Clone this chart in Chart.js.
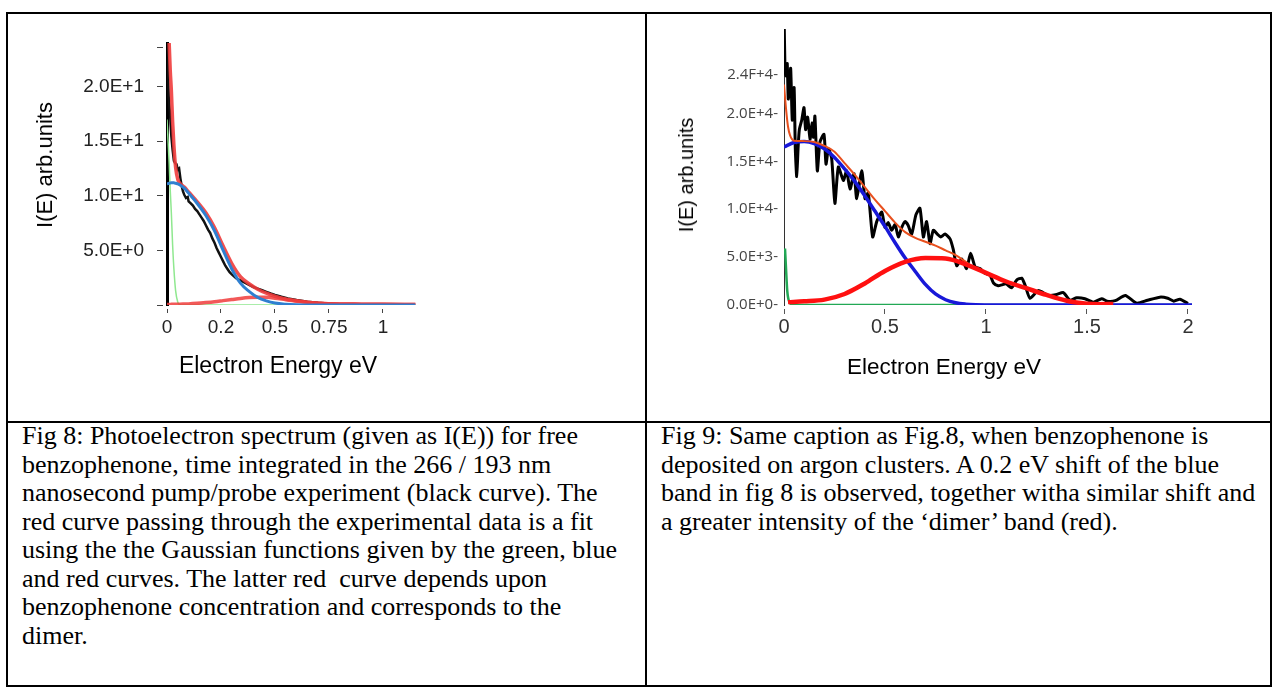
<!DOCTYPE html>
<html>
<head>
<meta charset="utf-8">
<title>Fig 8 / Fig 9 photoelectron spectra</title>
<script src="https://cdn.jsdelivr.net/npm/chart.js@4.4.0/dist/chart.umd.min.js"></script>
<style>
  body { margin: 0; background: #fff; width: 1278px; height: 689px; position: relative; overflow: hidden;
         font-family: 'Liberation Sans', Arial, sans-serif; }
  .rule { position: absolute; background: #000; }
  canvas { position: absolute; }
  .axis-title { position: absolute; white-space: nowrap; color: #000; line-height: 1; transform: translate(-50%, -50%); }
  .axis-title.vert { transform: translate(-50%, -50%) rotate(-90deg); }
  .caption { position: absolute; top: 422px; font-family: 'Liberation Serif', 'Times New Roman', serif;
             font-size: 26px; line-height: 28.5px; white-space: pre; color: #000; }
</style>
</head>
<body>

<!-- table rules -->
<div class="rule" style="left:6px; top:12px; width:1266px; height:2px;"></div>
<div class="rule" style="left:6px; top:685px; width:1266px; height:2px;"></div>
<div class="rule" style="left:6px; top:421px; width:1266px; height:2px;"></div>
<div class="rule" style="left:6px; top:12px; width:2px; height:675px;"></div>
<div class="rule" style="left:645px; top:12px; width:2px; height:675px;"></div>
<div class="rule" style="left:1270px; top:12px; width:2px; height:675px;"></div>

<canvas id="fig8" width="637" height="407" style="left:8px; top:14px;"></canvas>
<canvas id="fig9" width="623" height="407" style="left:647px; top:14px;"></canvas>

<div class="axis-title vert" style="left:45px; top:165px; font-size:22px;">I(E) arb.units</div>
<div class="axis-title" style="left:278px; top:365px; font-size:23px;">Electron Energy eV</div>
<div class="axis-title vert" style="left:686px; top:175px; font-size:20px;">I(E) arb.units</div>
<div class="axis-title" style="left:944px; top:367px; font-size:22.5px;">Electron Energy eV</div>

<div class="caption" style="left:22px;">Fig 8: Photoelectron spectrum (given as I(E)) for free
benzophenone, time integrated in the 266 / 193 nm
nanosecond pump/probe experiment (black curve). The
red curve passing through the experimental data is a fit
using the the Gaussian functions given by the green, blue
and red curves. The latter red  curve depends upon
benzophenone concentration and corresponds to the
dimer.</div>
<div class="caption" style="left:661px;">Fig 9: Same caption as Fig.8, when benzophenone is
deposited on argon clusters. A 0.2 eV shift of the blue
band in fig 8 is observed, together witha similar shift and
a greater intensity of the ‘dimer’ band (red).</div>

<script>
// ---- Fig 8 (free benzophenone) ----
const fig8SignalX = [0, 0.004, 0.008, 0.014, 0.020, 0.026, 0.032, 0.038, 0.044, 0.050, 0.056, 0.062, 0.068, 0.074,
  0.080, 0.088, 0.096, 0.100, 0.110, 0.120, 0.130, 0.140, 0.150, 0.160, 0.170, 0.180, 0.190, 0.200, 0.210, 0.220,
  0.230, 0.240, 0.250, 0.260, 0.270, 0.280, 0.290, 0.300, 0.320, 0.340, 0.360, 0.380, 0.400, 0.420, 0.440, 0.460,
  0.480, 0.500, 0.530, 0.560, 0.600, 0.650, 0.700, 0.760, 0.820, 0.900];
const fig8SignalY = [30, 22, 19, 17.5, 15.5, 14.2, 13.2, 13.0, 12.9, 12.4, 12.5, 11.6, 10.9, 10.4,
  10.1, 9.8, 9.9, 9.5, 9.3, 9.1, 8.8, 8.6, 8.3, 8.0, 7.7, 7.3, 6.9, 6.6, 6.1, 5.7,
  5.2, 4.8, 4.4, 4.0, 3.6, 3.3, 3.0, 2.8, 2.45, 2.25, 2.05, 1.85, 1.65, 1.5, 1.35, 1.2,
  1.05, 0.92, 0.75, 0.6, 0.45, 0.3, 0.2, 0.12, 0.05, 0];

const fig8FitX = [0, 0.005, 0.01, 0.015, 0.02, 0.026, 0.032, 0.04, 0.05, 0.06, 0.08, 0.10, 0.14, 0.18, 0.22, 0.26,
  0.30, 0.34, 0.38, 0.42, 0.46, 0.50, 0.55, 0.60, 0.65, 0.70, 0.80, 0.90, 1.00, 1.15];
const fig8TotalFit = [35, 27, 24, 21.5, 19.7, 16.8, 14.6, 12.6, 11.5, 11.15, 10.8, 10.35, 9.45, 8.45, 7.1, 5.4,
  3.8, 2.6, 1.95, 1.45, 1.08, 0.8, 0.55, 0.38, 0.25, 0.17, 0.1, 0.08, 0.06, 0.05];
const fig8BlueBand = [11.1, 11.12, 11.15, 11.18, 11.2, 11.2, 11.2, 11.15, 11.1, 11.0, 10.7, 10.25, 9.3, 8.2, 6.8, 5.0,
  3.3, 2.0, 1.25, 0.7, 0.38, 0.18, 0.07, 0.02, 0, 0, 0, 0, 0, 0];
const fig8DimerBand = [0.05, 0.05, 0.05, 0.05, 0.06, 0.06, 0.06, 0.07, 0.07, 0.08, 0.09, 0.1, 0.15, 0.22, 0.3, 0.4,
  0.5, 0.6, 0.68, 0.72, 0.7, 0.62, 0.48, 0.35, 0.24, 0.16, 0.09, 0.08, 0.06, 0.05];
const fig8GreenBand = [17, 15, 13, 10.5, 8.5, 5.5, 3.3, 1.3, 0.25, 0.03, 0, 0, 0, 0, 0, 0,
  0, 0, 0, 0, 0, 0, 0, 0, 0, 0, 0, 0, 0, 0];

const fig8XTicks = [0, 0.25, 0.5, 0.75, 1];
const fig8XLabels = ['0', '0.2', '0.5', '0.75', '1'];
const fig8YTicks = [0, 5, 10, 15, 20, 23.6];
const fig8YLabels = ['', '5.0E+0', '1.0E+1', '1.5E+1', '2.0E+1', ''];

// ---- Fig 9 (benzophenone on argon clusters) ----
const fig9SignalX = [0, 0.005, 0.010, 0.016, 0.021, 0.026, 0.033, 0.041, 0.050, 0.056, 0.063, 0.070, 0.076, 0.088,
  0.099, 0.107, 0.117, 0.129, 0.139, 0.146, 0.153, 0.165, 0.178, 0.198, 0.208, 0.220, 0.236, 0.252, 0.269, 0.294,
  0.310, 0.327, 0.347, 0.360, 0.385, 0.401, 0.417, 0.439, 0.459, 0.484, 0.500, 0.516, 0.533, 0.550, 0.566, 0.583,
  0.599, 0.615, 0.632, 0.653, 0.673, 0.690, 0.706, 0.723, 0.739, 0.759, 0.776, 0.797, 0.822, 0.838, 0.855, 0.880,
  0.904, 0.924, 0.946, 0.970, 0.995, 1.020, 1.037, 1.061, 1.078, 1.100, 1.127, 1.152, 1.177, 1.193, 1.218, 1.259,
  1.310, 1.350, 1.383, 1.416, 1.449, 1.490, 1.531, 1.573, 1.600, 1.640, 1.690, 1.746, 1.800, 1.861, 1.900, 1.930,
  1.960, 2.000];
const fig9SignalY = [31000, 24500, 23900, 25200, 21500, 22300, 24700, 19300, 22700, 16300, 13400, 16500, 18300, 19300,
  20600, 18300, 19600, 17300, 19000, 17500, 19700, 14000, 17000, 17800, 14700, 16300, 15300, 10600, 14400, 13000,
  14000, 12100, 13700, 11100, 14000, 11100, 11700, 7100, 8700, 9700, 8100, 8600, 7800, 8400, 7100, 8100,
  8700, 8300, 7400, 9400, 10100, 7100, 8700, 6400, 7800, 7400, 7100, 7400, 6900, 5800, 4100, 4800,
  3800, 5400, 4000, 3800, 3300, 3100, 2300, 2000, 2100, 2200, 1800, 2600, 2800, 2100, 700, 1500,
  1000, 1100, 1300, 500, 750, 650, 300, 650, 400, 450, 1000, 200, 500, 820, 700, 400,
  600, 150];

const fig9TotalX = [0, 0.01, 0.02, 0.03, 0.05, 0.1, 0.15, 0.2, 0.25, 0.3, 0.35, 0.4, 0.45, 0.5, 0.55, 0.6, 0.65,
  0.7, 0.75, 0.8, 0.85, 0.9, 0.95, 1.0, 1.1, 1.2, 1.3, 1.4, 1.5, 1.6];
const fig9TotalY = [23000, 20500, 18600, 17700, 17150, 17100, 17000, 16600, 16000, 14800, 13600, 12300, 11000, 9800,
  8600, 7600, 7000, 6600, 6200, 5700, 5200, 4500, 3800, 3400, 2450, 1750, 1050, 450, 130, 100];

const fig9BlueX = [0, 0.05, 0.10, 0.15, 0.20, 0.25, 0.30, 0.35, 0.40, 0.45, 0.50, 0.55, 0.60, 0.65, 0.70, 0.75,
  0.80, 0.85, 0.90, 0.95, 1.00, 1.10, 1.30, 2.02];
const fig9BlueY = [16500, 16950, 17050, 16850, 16300, 15400, 14200, 12900, 11400, 9800, 8200, 6500, 4900, 3500, 2150,
  1150, 550, 230, 90, 30, 10, 0, 0, 0];

const fig9DimerX = [0.02, 0.1, 0.2, 0.3, 0.4, 0.5, 0.6, 0.7, 0.8, 0.9, 1.0, 1.1, 1.2, 1.3, 1.4, 1.5, 1.56, 1.63];
const fig9DimerY = [300, 380, 560, 1150, 2250, 3550, 4500, 4900, 4850, 4250, 3350, 2450, 1750, 1050, 450, 130, 80, 100];

const fig9GreenX = [0.005, 0.01, 0.016, 0.026, 0.046, 2.02];
const fig9GreenY = [5900, 3800, 1500, 330, 0, 0];

const fig9XTicks = [0, 0.5, 1, 1.5, 2];
const fig9XLabels = ['0', '0.5', '1', '1.5', '2'];
const fig9YTicks = [0, 5000, 10000, 15000, 20000, 24000];
const fig9YLabels = ['0.0E+0-', '5.0E+3-', '1.0E+4-', '1.5E+4-', '2.0E+4-', '2.4F+4-'];

Chart.defaults.font.family = "'Liberation Sans', Arial, sans-serif";

function pts(xs, ys) {
  return xs.map((x, i) => ({ x: x, y: ys[i] }));
}

function curve(xs, ys, color, width, mode) {
  const ds = { data: pts(xs, ys), borderColor: color, borderWidth: width, pointRadius: 0, fill: false };
  if (mode === 'fit') {
    ds.cubicInterpolationMode = 'monotone';
  } else {
    ds.tension = mode === 'wiggle' ? 0.2 : 0;
  }
  return ds;
}

function fixedTicks(values) {
  return function (axis) {
    axis.ticks = values.map(v => ({ value: v }));
  };
}

// Fig 8 chart (first dataset is drawn on top)
new Chart(document.getElementById('fig8'), {
  type: 'line',
  data: {
    datasets: [
      curve(fig8FitX, fig8BlueBand, '#2f7fd0', 3, 'fit'),
      curve(fig8FitX, fig8DimerBand, 'rgba(240,60,60,0.85)', 3.5, 'fit'),
      curve(fig8FitX, fig8TotalFit, 'rgba(240,60,60,0.9)', 3.5, 'fit'),
      curve(fig8SignalX, fig8SignalY, '#111', 2.5, 'raw'),
      curve(fig8FitX, fig8GreenBand, '#8fe88f', 1.5, 'fit')
    ]
  },
  options: {
    responsive: false,
    animation: false,
    devicePixelRatio: 1,
    layout: { padding: { top: 29, right: 229, left: 0, bottom: 0 } },
    plugins: { legend: { display: false }, tooltip: { enabled: false } },
    scales: {
      x: {
        type: 'linear', min: 0, max: 1.153,
        afterBuildTicks: fixedTicks(fig8XTicks),
        afterFit: s => { s.height = 116; },
        border: { display: false },
        grid: { drawOnChartArea: false, tickLength: 8, tickColor: '#444', tickBorderDash: [0, 4, 4, 100] },
        ticks: { autoSkip: false, maxRotation: 0, padding: 3.6, color: '#222', font: { size: 19 },
                 callback: (v, i) => fig8XLabels[i] }
      },
      y: {
        type: 'linear', min: 0, max: 24,
        afterBuildTicks: fixedTicks(fig8YTicks),
        afterFit: s => { s.width = 159; },
        border: { color: '#000', width: 3 },
        grid: { drawOnChartArea: false, tickLength: 10, tickColor: '#444', tickBorderDash: [6, 100] },
        ticks: { autoSkip: false, padding: 13, color: '#222', font: { size: 19 },
                 callback: (v, i) => fig8YLabels[i] }
      }
    }
  }
});

// Fig 9 chart
new Chart(document.getElementById('fig9'), {
  type: 'line',
  data: {
    datasets: [
      curve(fig9DimerX, fig9DimerY, '#ff1010', 4.5, 'fit'),
      curve(fig9TotalX, fig9TotalY, '#e8501e', 2, 'fit'),
      curve(fig9BlueX, fig9BlueY, '#1818d8', 3.5, 'fit'),
      curve(fig9SignalX, fig9SignalY, '#000', 3, 'wiggle'),
      curve(fig9GreenX, fig9GreenY, '#22a855', 2.5, 'fit')
    ]
  },
  options: {
    responsive: false,
    animation: false,
    devicePixelRatio: 1,
    layout: { padding: { top: 0, right: 78, left: 0, bottom: 0 } },
    plugins: { legend: { display: false }, tooltip: { enabled: false } },
    scales: {
      x: {
        type: 'linear', min: 0, max: 2.02,
        afterBuildTicks: fixedTicks(fig9XTicks),
        afterFit: s => { s.height = 116; },
        border: { display: false },
        grid: { drawOnChartArea: false, tickLength: 9, tickColor: '#555', tickBorderDash: [0, 4, 5, 100] },
        ticks: { autoSkip: false, maxRotation: 0, padding: 1, color: '#333', font: { size: 20 },
                 callback: (v, i) => fig9XLabels[i] }
      },
      y: {
        type: 'linear', min: 0, max: 28800,
        afterBuildTicks: fixedTicks(fig9YTicks),
        afterFit: s => { s.width = 137; },
        border: { color: '#333', width: 1 },
        grid: { display: false, drawTicks: false },
        ticks: { autoSkip: false, padding: 6, color: '#444', font: { family: "'Open Sans', sans-serif", size: 15 },
                 callback: (v, i) => fig9YLabels[i] }
      }
    }
  }
});
</script>
</body>
</html>
